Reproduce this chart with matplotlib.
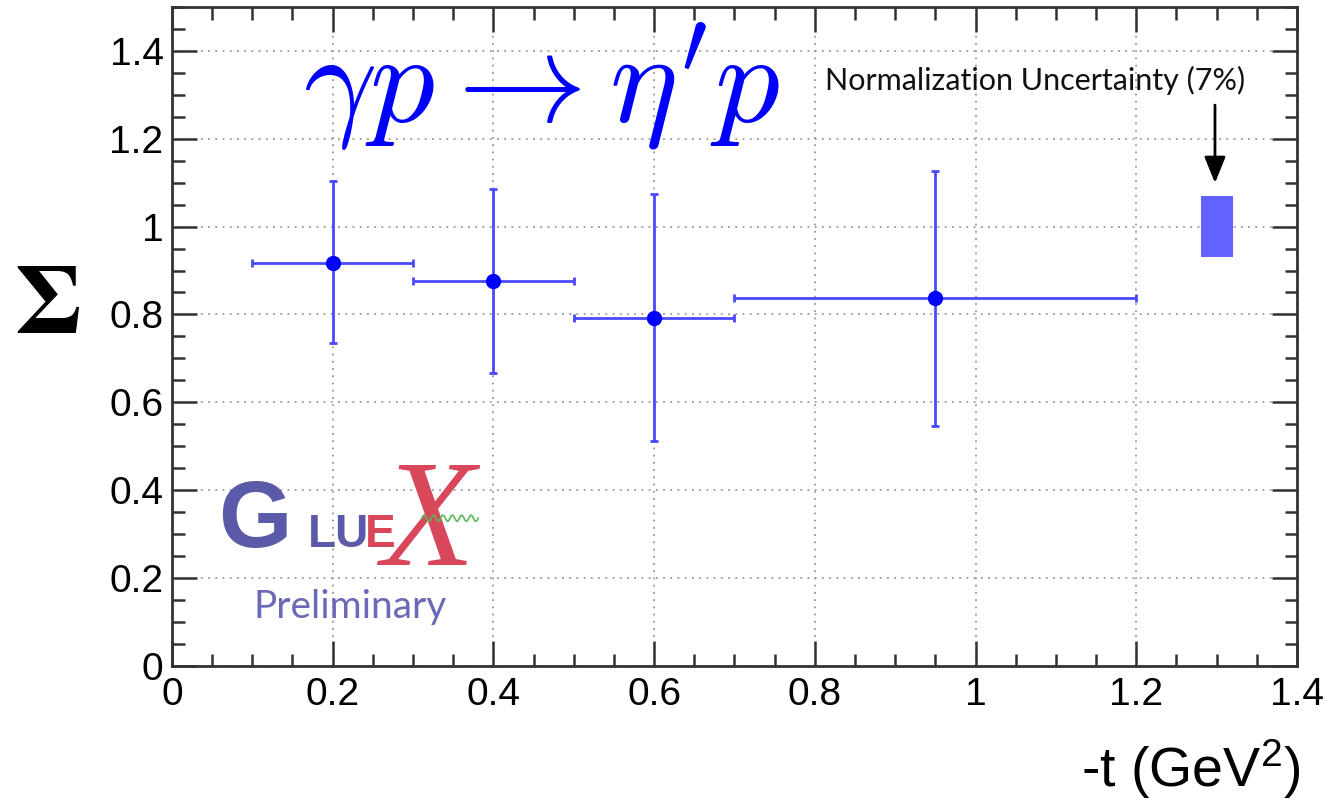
import numpy as np
import matplotlib
matplotlib.use("Agg")
import matplotlib.pyplot as plt
from matplotlib.ticker import MultipleLocator
from matplotlib.patches import Rectangle

plt.rcParams["font.family"] = "Liberation Sans"
plt.rcParams["mathtext.fontset"] = "custom"
plt.rcParams["mathtext.rm"] = "Liberation Sans"
plt.rcParams["mathtext.it"] = "Liberation Sans:italic"

# Beam asymmetry Sigma vs -t
t_vals = [0.2, 0.4, 0.6, 0.95]
t_lo = [0.1, 0.3, 0.5, 0.7]
t_hi = [0.3, 0.5, 0.7, 1.2]
sigma = [0.918, 0.876, 0.793, 0.838]
sigma_up = [1.103, 1.085, 1.075, 1.126]
sigma_dn = [0.734, 0.667, 0.511, 0.547]

# normalization uncertainty box
norm_x = [1.28, 1.32]
norm_center = 1.0
norm_frac = 0.07

xticks = [0, 0.2, 0.4, 0.6, 0.8, 1.0, 1.2, 1.4]
xticklabels = ["0", "0.2", "0.4", "0.6", "0.8", "1", "1.2", "1.4"]
yticks = [0, 0.2, 0.4, 0.6, 0.8, 1.0, 1.2, 1.4]
yticklabels = ["0", "0.2", "0.4", "0.6", "0.8", "1", "1.2", "1.4"]

fig = plt.figure(figsize=(13.35, 8.02), dpi=100)
ax = fig.add_axes([0.1288, 0.1698, 0.8427, 0.8215])

t = np.array(t_vals)
s = np.array(sigma)
xerr = [t - np.array(t_lo), np.array(t_hi) - t]
yerr = [s - np.array(sigma_dn), np.array(sigma_up) - s]
ax.errorbar(t, s, xerr=xerr, yerr=yerr, fmt="o", color="#0000ff",
            ecolor="#4a4aff", elinewidth=2, capsize=3, capthick=2,
            markersize=10, zorder=3)

ax.add_patch(Rectangle((norm_x[0], norm_center * (1 - norm_frac)),
                       norm_x[1] - norm_x[0], 2 * norm_center * norm_frac,
                       facecolor="#6262ff", edgecolor="none", zorder=3))
ax.annotate("", xy=(1.298, 1.093), xytext=(1.298, 1.283),
            arrowprops=dict(arrowstyle="-|>,head_length=1.6,head_width=0.65",
                            color="black", lw=2))
ax.text(1.335, 1.311, "Normalization Uncertainty (7%)", fontsize=22,
        family="Lato", ha="right", va="baseline", color="#111111")

ax.text(0.163, 1.235, r"$\gamma p \rightarrow \eta^{\prime} p$", fontsize=93,
        color="#0000ff", math_fontfamily="cm", ha="left", va="baseline")

# GlueX logo
logo_blue = "#5a5aa8"
logo_red = "#d9475a"
ax.text(0.058, 0.270, "G", fontsize=68, fontweight="bold", color=logo_blue,
        ha="left", va="baseline")
ax.text(0.169, 0.270, "LU", fontsize=33, fontweight="bold", color=logo_blue,
        ha="left", va="baseline")
ax.text(0.240, 0.270, "E", fontsize=33, fontweight="bold", color=logo_red,
        ha="left", va="baseline")
ax.text(0.318, 0.312, "X", fontsize=110, family="Liberation Serif",
        style="italic", color=logo_red, ha="center", va="center", zorder=2)
wx = np.linspace(0.311, 0.381, 200)
ax.plot(wx, 0.336 + 0.007 * np.sin((wx - 0.311) / 0.07 * 6 * 2 * np.pi),
        color="#5cb85c", lw=1.2, zorder=4)
ax.text(0.222, 0.134, "Preliminary", fontsize=28, family="Lato",
        color="#6a6ab8", ha="center", va="center")

ax.set_xlim(0, 1.4)
ax.set_ylim(0, 1.5)
ax.set_xticks(xticks)
ax.set_xticklabels(xticklabels)
ax.set_yticks(yticks)
ax.set_yticklabels(yticklabels)
ax.xaxis.set_minor_locator(MultipleLocator(0.05))
ax.yaxis.set_minor_locator(MultipleLocator(0.05))
ax.tick_params(which="both", direction="in", top=True, right=True,
               width=1.8, color="#333333")
ax.tick_params(which="major", length=18, labelsize=28, pad=6)
ax.tick_params(axis="x", which="major", pad=8)
ax.tick_params(which="minor", length=9)
for sp in ax.spines.values():
    sp.set_linewidth(2)
    sp.set_color("#333333")
ax.grid(True, which="major", linestyle=(0, (1, 3)), color="#999999", lw=1.3)
ax.set_axisbelow(True)

fig.text(0.035, 0.617, r"$\mathbf{\Sigma}$", fontsize=72, ha="center",
         va="center", math_fontfamily="stix")
fig.text(0.974, 0.019, r"-t (GeV$^{2}$)", fontsize=40, ha="right",
         va="baseline")

fig.savefig("out.png", dpi=100)
